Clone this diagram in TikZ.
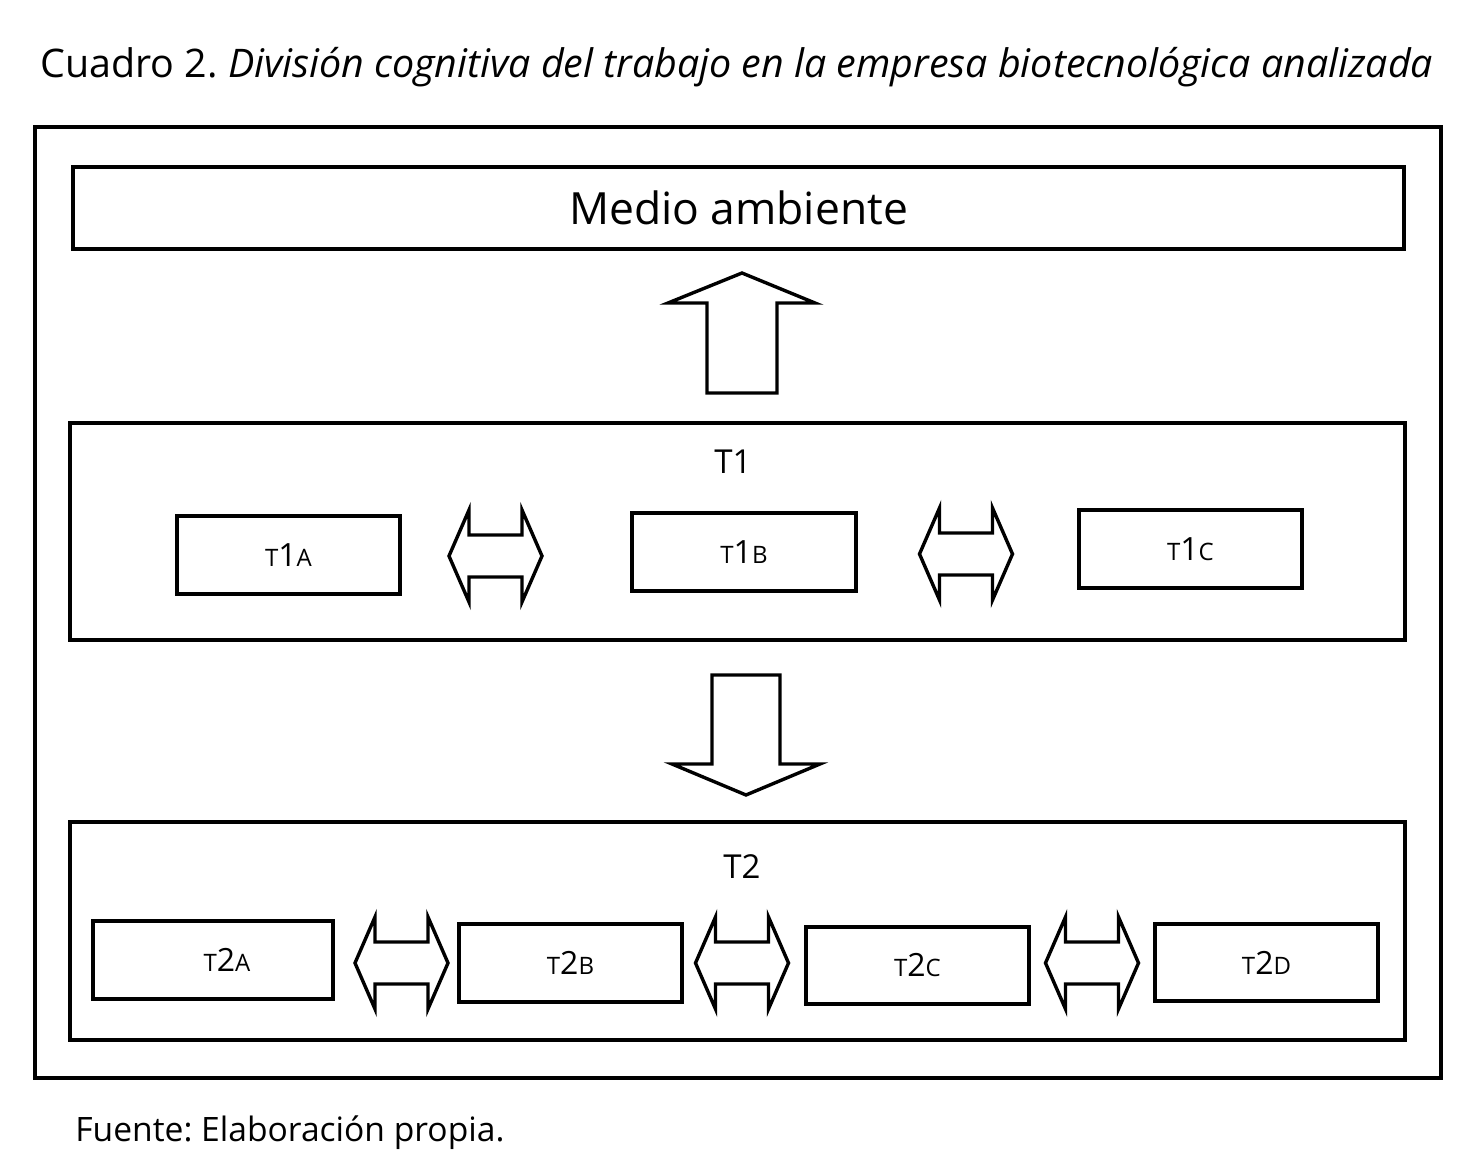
\documentclass[tikz,border=0pt]{standalone}
\usepackage{fontspec}
\setmainfont{Open Sans}
\frenchspacing
\begin{document}
\begin{tikzpicture}[x=0.5pt,y=-0.5pt,
  frame/.style={draw, line width=1.6pt, inner sep=0pt, outer sep=0pt},
  bx/.style 2 args={frame, minimum width=#1*0.5pt, minimum height=#2*0.5pt},
  shp/.style={draw, line width=1.7pt, line join=miter, fill=white},
  lbl/.style={font=\fontsize{16}{18}\selectfont},
  pics/dblarrow/.style={code={
    \draw[shp] (-46.5,0) -- (-26.5,-46) -- (-26.5,-21) -- (26.5,-21) -- (26.5,-46)
      -- (46.5,0) -- (26.5,46) -- (26.5,21) -- (-26.5,21) -- (-26.5,46) -- cycle;}}
]
\newcommand\smc[1]{{\fontsize{12}{12}\selectfont #1}}
\useasboundingbox (0,0) rectangle (1474,1176);

% title
\node[anchor=base west, inner sep=0pt, font=\fontsize{19.7}{22}\selectfont] (title) at (40,78)
  {Cuadro 2. \textit{División cognitiva del trabajo en la empresa biotecnológica analizada}};

% outer frame
\node[bx={1406}{951}] (outer) at (738,602.5) {};

% environment
\node[bx={1331}{82}, font=\fontsize{22.2}{26}\selectfont] (medio) at (738.5,208) {Medio ambiente};

% T1 group
\node[bx={1335}{217}] (t1) at (737.5,531.5) {};
\node[font=\fontsize{16.5}{18}\selectfont, inner sep=0pt] (t1h) at (733,462) {T1};
\node[bx={223}{78}, lbl] (t1a) at (288.5,555) {\smc{T}1\smc{A}};
\node[bx={224}{78}, lbl] (t1b) at (744,552) {\smc{T}1\smc{B}};
\node[bx={223}{78}, lbl] (t1c) at (1190.5,549) {\smc{T}1\smc{C}};
\pic (a1) at (495.5,556) {dblarrow};
\pic (a2) at (966,554) {dblarrow};

% up arrow
\draw[shp] (707,393) -- (707,303) -- (668,303) -- (742,273) -- (815,303) -- (777,303) -- (777,393) -- cycle;

% down arrow
\draw[shp] (712,675) -- (780,675) -- (780,764) -- (820,764) -- (746,795) -- (672,764) -- (712,764) -- cycle;

% T2 group
\node[bx={1335}{218}] (t2) at (737.5,931) {};
\node[font=\fontsize{16.5}{18}\selectfont, inner sep=0pt] (t2h) at (742,867) {T2};
\node[bx={240}{78}, lbl, label={[lbl, xshift=7pt]center:{\smc{T}2\smc{A}}}] (t2a) at (213,960) {};
\node[bx={223}{78}, lbl] (t2b) at (570.5,963) {\smc{T}2\smc{B}};
\node[bx={223}{77}, lbl] (t2c) at (917.5,965.5) {\smc{T}2\smc{C}};
\node[bx={223}{77}, lbl] (t2d) at (1266.5,962.5) {\smc{T}2\smc{D}};
\pic (b1) at (401.5,963) {dblarrow};
\pic (b2) at (742,963) {dblarrow};
\pic (b3) at (1092,963) {dblarrow};

% source
\node[anchor=base west, inner sep=0pt, font=\fontsize{16.8}{20}\selectfont] (src) at (75,1141)
  {Fuente: Elaboración propia.};
\end{tikzpicture}
\end{document}
